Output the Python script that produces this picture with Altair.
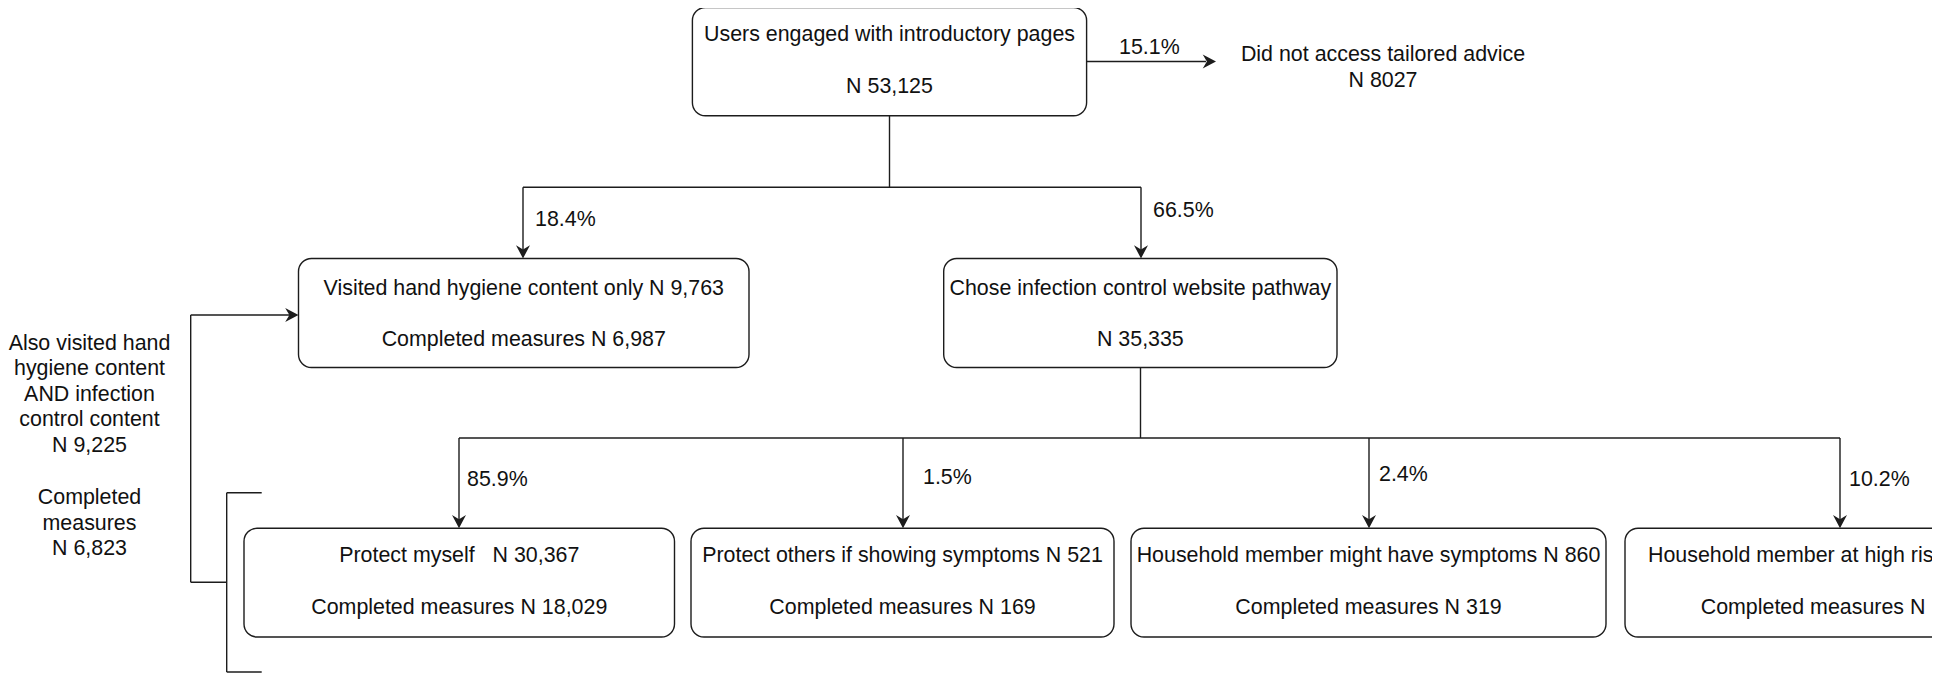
import altair as alt
import pandas as pd

# ---------------- content (text / values) ----------------
BOX_TITLES = [
    "Users engaged with introductory pages",
    "Visited hand hygiene content only N 9,763",
    "Chose infection control website pathway",
    "Protect myself\u00a0\u00a0\u00a0N 30,367",
    "Protect others if showing symptoms N 521",
    "Household member might have symptoms N 860",
]
BOX_SUBTITLES = [
    "N 53,125",
    "Completed measures N 6,987",
    "N 35,335",
    "Completed measures N 18,029",
    "Completed measures N 169",
    "Completed measures N 319",
]
# last box is cropped by the picture edge
CROPPED_TEXT = ["Household member at high risk", "Completed measures N"]
PERCENTS = ["15.1%", "18.4%", "66.5%", "85.9%", "1.5%", "2.4%", "10.2%"]
SIDE_NOTE = ["Did not access tailored advice", "N 8027"]
LEFT_NOTE = ["Also visited hand", "hygiene content", "AND infection",
             "control content", "N 9,225", "Completed", "measures", "N 6,823"]

# ---------------- layout (diagram coordinates, page pixels) ----------------
BOX_X0 = [692.4, 298.5, 943.7, 244.0, 691.0, 1131.0, 1625.0]
BOX_X1 = [1086.6, 749.0, 1337.0, 674.5, 1114.0, 1606.0, 2055.0]
BOX_Y0 = [7.5, 258.5, 258.5, 528.3, 528.3, 528.3, 528.3]
BOX_Y1 = [115.7, 367.5, 367.5, 637.0, 637.0, 637.0, 637.0]
TITLE_Y = [35, 289, 289, 556, 556, 556]
SUB_Y = [87, 339.5, 339.5, 607.5, 607.5, 607.5]
CROP_X = [1648, 1700.7]
CROP_Y = [556, 607.5]
PCT_X = [1119, 535, 1153, 467, 923, 1379, 1849]
PCT_Y = [47.5, 220, 211, 480, 478, 475, 480]
SIDE_X = 1383
SIDE_Y = [55, 80.5]
LEFT_X = 89.5
LEFT_Y = [343.5, 369, 394.5, 420, 445.5, 498, 523.5, 549]

SEG_X1 = [889.5, 523, 523, 1141, 1086.6, 1140.5, 459, 459, 903, 1369, 1840,
          190.7, 190.7, 190.7, 226.7, 226.7, 226.7]
SEG_Y1 = [115.7, 187.3, 187.3, 187.3, 61.5, 367.5, 438, 438, 438, 438, 438,
          315, 315, 582.3, 492.7, 492.7, 672]
SEG_X2 = [889.5, 1141, 523, 1141, 1206, 1140.5, 1840, 459, 903, 1369, 1840,
          290, 190.7, 226.7, 226.7, 261.7, 261.7]
SEG_Y2 = [187.3, 187.3, 250, 250, 61.5, 438, 438, 520, 520, 520, 520,
          315, 582.3, 582.3, 672, 492.7, 672]

DOWN_TIP_X = [523, 1141, 459, 903, 1369, 1840]
DOWN_TIP_Y = [258.5, 258.5, 528.3, 528.3, 528.3, 528.3]
RIGHT_TIP_X = [1216, 298.5]
RIGHT_TIP_Y = [61.5, 315]

# ---------------- build ----------------
INK = "#1c1c1c"
FONT = "Liberation Sans"
FS = 21.4
W, H = 1924, 666
XS = alt.Scale(domain=[8, 1932], nice=False, zero=False)
YS = alt.Scale(domain=[8, 674], nice=False, zero=False, reverse=True)


def X(f):
    return alt.X(f, type="quantitative", scale=XS, axis=None)


def Y(f):
    return alt.Y(f, type="quantitative", scale=YS, axis=None)


boxes = pd.DataFrame({"x0": BOX_X0, "x1": BOX_X1, "y0": BOX_Y0, "y1": BOX_Y1})
segs = pd.DataFrame({"x1": SEG_X1, "y1": SEG_Y1, "x2": SEG_X2, "y2": SEG_Y2})

center_rows = []
for i in range(len(BOX_TITLES)):
    cx = (BOX_X0[i] + BOX_X1[i]) / 2
    center_rows.append({"x": cx, "y": TITLE_Y[i], "t": BOX_TITLES[i]})
    center_rows.append({"x": cx, "y": SUB_Y[i], "t": BOX_SUBTITLES[i]})
for t, y in zip(SIDE_NOTE, SIDE_Y):
    center_rows.append({"x": SIDE_X, "y": y, "t": t})
for t, y in zip(LEFT_NOTE, LEFT_Y):
    center_rows.append({"x": LEFT_X, "y": y, "t": t})
center_text = pd.DataFrame(center_rows)

left_rows = [{"x": x, "y": y, "t": t} for t, x, y in zip(PERCENTS, PCT_X, PCT_Y)]
left_rows += [{"x": x, "y": y, "t": t} for t, x, y in zip(CROPPED_TEXT, CROP_X, CROP_Y)]
left_text = pd.DataFrame(left_rows)

down_tips = pd.DataFrame({"x": DOWN_TIP_X, "y": DOWN_TIP_Y})
right_tips = pd.DataFrame({"x": RIGHT_TIP_X, "y": RIGHT_TIP_Y})

rule_layer = alt.Chart(segs).mark_rule(color=INK, strokeWidth=1.4, clip=True).encode(
    x=X("x1"), y=Y("y1"), x2="x2:Q", y2="y2:Q")

box_layer = alt.Chart(boxes).mark_rect(
    fill="white", stroke=INK, strokeWidth=1.4, cornerRadius=13, clip=True
).encode(x=X("x0"), x2="x1:Q", y=Y("y0"), y2="y1:Q")

ctext_layer = alt.Chart(center_text).mark_text(
    font=FONT, fontSize=FS, color="#111111", align="center", baseline="middle", clip=True
).encode(x=X("x"), y=Y("y"), text="t:N")

ltext_layer = alt.Chart(left_text).mark_text(
    font=FONT, fontSize=FS, color="#111111", align="left", baseline="middle", clip=True
).encode(x=X("x"), y=Y("y"), text="t:N")

down_layer = alt.Chart(down_tips).mark_point(
    shape="M0,0L-1,-1.9L0,-1.3L1,-1.9Z", size=196, filled=True,
    color=INK, opacity=1, strokeWidth=0
).encode(x=X("x"), y=Y("y"))

right_layer = alt.Chart(right_tips).mark_point(
    shape="M0,0L-1.9,-1L-1.3,0L-1.9,1Z", size=196, filled=True,
    color=INK, opacity=1, strokeWidth=0
).encode(x=X("x"), y=Y("y"))

chart = alt.layer(
    rule_layer, box_layer, ctext_layer, ltext_layer, down_layer, right_layer
).properties(
    width=W, height=H, padding=0, autosize=alt.AutoSizeParams(type="none"),
    background="white"
).configure_view(stroke=None)

chart.save("out.html", embed_options={"renderer": "svg", "actions": False})
